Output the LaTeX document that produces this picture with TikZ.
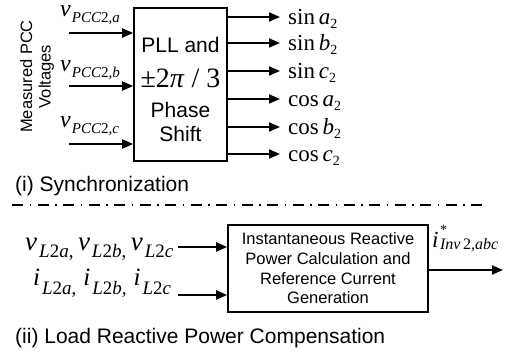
\documentclass[tikz,border=0pt]{standalone}
\usepackage{fontspec}
\setmainfont{Liberation Sans}
\newfontfamily\tms{Liberation Serif}
\usetikzlibrary{arrows.meta,positioning}

\newcommand{\fs}[1]{\fontsize{#1}{#1}\selectfont}
\newcommand{\lowsub}[3]{\raisebox{-#1}{\fs{#2}#3}}

\tikzset{
  blk/.style={draw, line width=1.6pt, inner sep=0pt},
  sig/.style={-{Triangle[length=11pt,width=9pt]}, line width=1.9pt},
  sepline/.style={line width=1.2pt, dash pattern=on 11pt off 6.5pt on 1.5pt off 6.5pt},
  outlbl/.style={anchor=base west, inner sep=0pt, font=\tms\fs{23}},
  inlbl/.style={anchor=base west, inner sep=0pt, font=\tms\fs{24}},
  caption/.style={anchor=base west, inner sep=0pt, font=\fs{21}},
}

\begin{document}
\begin{tikzpicture}[x=1pt,y=-1pt]
  \useasboundingbox (0,0) rectangle (509,355);

  % synchronization block
  \node[blk, minimum width=93pt, minimum height=153pt] (pll) at (180.5,84.5) {};
  \node[align=center, inner sep=0pt, font=\fontsize{21}{24}\selectfont] (pllTxt)
    at ([yshift=-4.5pt]pll.center)
    {PLL and\\[11pt]{\tms\fs{28}±2\textit{π} / 3}\\[6pt]Phase\\Shift};

  % measured voltages
  \node[rotate=90, align=center, inner sep=0pt, font=\fontsize{16.5}{18.5}\selectfont] (meas)
    at (37,76.5) {Measured PCC\\Voltages};
  \coordinate (vaIn) at (69,33);
  \coordinate (vbIn) at (69,86);
  \coordinate (vcIn) at (69,144);
  \draw[sig] (vaIn) -- (pll.west |- vaIn);
  \draw[sig] (vbIn) -- (pll.west |- vbIn);
  \draw[sig] (vcIn) -- (pll.west |- vcIn);
  \node[inlbl] (va) at (60,16.5)
    {\textit{v}\kern1pt\lowsub{6pt}{15}{\textit{PCC}2\textit{,a}}};
  \node[inlbl] (vb) at (60,72)
    {\textit{v}\kern1pt\lowsub{6pt}{15}{\textit{PCC}2\textit{,b}}};
  \node[inlbl] (vc) at (60,128)
    {\textit{v}\kern1pt\lowsub{6pt}{15}{\textit{PCC}2\textit{,c}}};

  % sin / cos outputs
  \coordinate (saTip) at (280,17);
  \coordinate (sbTip) at (280,43);
  \coordinate (scTip) at (280,71);
  \coordinate (caTip) at (280,99);
  \coordinate (cbTip) at (280,127);
  \coordinate (ccTip) at (280,154);
  \draw[sig] (pll.east |- saTip) -- (saTip);
  \draw[sig] (pll.east |- sbTip) -- (sbTip);
  \draw[sig] (pll.east |- scTip) -- (scTip);
  \draw[sig] (pll.east |- caTip) -- (caTip);
  \draw[sig] (pll.east |- cbTip) -- (cbTip);
  \draw[sig] (pll.east |- ccTip) -- (ccTip);
  \node[outlbl] (sa) at (288,25) {sin\,\textit{a}\lowsub{4pt}{14}{2}};
  \node[outlbl] (sb) at (288,51) {sin\,\textit{b}\lowsub{4pt}{14}{2}};
  \node[outlbl] (sc) at (288,79) {sin\,\textit{c}\lowsub{4pt}{14}{2}};
  \node[outlbl] (ca) at (288,107) {cos\,\textit{a}\lowsub{4pt}{14}{2}};
  \node[outlbl] (cb) at (288,135) {cos\,\textit{b}\lowsub{4pt}{14}{2}};
  \node[outlbl] (cc) at (288,162) {cos\,\textit{c}\lowsub{4pt}{14}{2}};

  \node[caption] (syncCap) at (15,192) {(i) Synchronization};

  % separator
  \coordinate (sepL) at (12,205);
  \coordinate (sepR) at (486,205);
  \draw[sepline] (sepL) -- (sepR);

  % reactive power block
  \node[blk, minimum width=200pt, minimum height=87pt, align=center,
        font=\fontsize{16.5}{19.7}\selectfont] (irp) at (328,268.5)
    {Instantaneous Reactive\\Power Calculation and\\Reference Current\\Generation};
  \coordinate (vlIn) at (178,247);
  \coordinate (ilIn) at (178,295);
  \coordinate (refOut) at (503,270);
  \draw[sig] (vlIn) -- (irp.west |- vlIn);
  \draw[sig] (ilIn) -- (irp.west |- ilIn);
  \draw[sig] (irp.east |- refOut) -- (refOut);
  \node[anchor=base west, inner sep=0pt, font=\tms\fs{27}] (vl) at (25,251)
    {\textit{v}\kern2pt\lowsub{7pt}{19}{\textit{L}2\textit{a},}\kern4.5pt%
     \textit{v}\kern2pt\lowsub{7pt}{19}{\textit{L}2\textit{b},}\kern4.5pt%
     \textit{v}\kern2pt\lowsub{7pt}{19}{\textit{L}2\textit{c}}};
  \node[anchor=base west, inner sep=0pt, font=\tms\fs{25}] (il) at (33,286)
    {\textit{i}\kern2pt\lowsub{9pt}{19}{\textit{L}2\textit{a},}\kern7pt%
     \textit{i}\kern2pt\lowsub{9pt}{19}{\textit{L}2\textit{b},}\kern7pt%
     \textit{i}\kern2pt\lowsub{9pt}{19}{\textit{L}2\textit{c}}};
  \node[anchor=base west, inner sep=0pt, font=\tms\fs{23}] (iref) at (432,248)
    {\textit{i}\kern1.5pt\rlap{\raisebox{13pt}{\fs{14}*}}\lowsub{2pt}{16}{\textit{Inv}\,2\textit{,abc}}};

  \node[caption] (compCap) at (15,344) {(ii) Load Reactive Power Compensation};

\end{tikzpicture}
\end{document}
